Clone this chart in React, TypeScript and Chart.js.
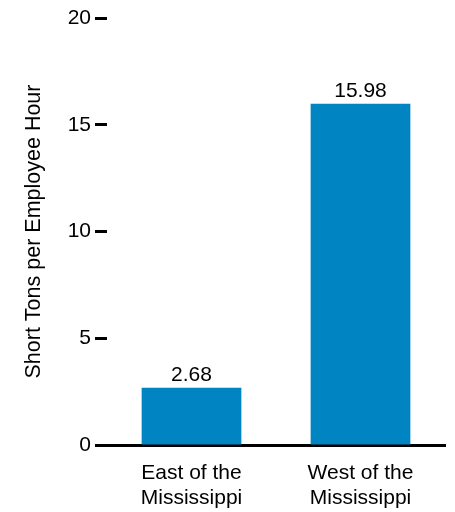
import React, { useEffect, useRef } from "react";
import { Chart, registerables } from "chart.js";

Chart.register(...registerables);

const categories: string[][] = [["East of the", "Mississippi"], ["West of the", "Mississippi"]];
const values: number[] = [2.68, 15.98];
const valueLabels: string[] = ["2.68", "15.98"];
const yTicks: number[] = [0, 5, 10, 15, 20];
const yTitle = "Short Tons per Employee Hour";

const FONT = "'Liberation Sans', Arial, Helvetica, sans-serif";
const BAR_COLOR = "#0084C2";

const valueLabelPlugin = {
  id: "valueLabels",
  afterDatasetsDraw(chart: any) {
    const ctx = chart.ctx;
    const meta = chart.getDatasetMeta(0);
    ctx.save();
    ctx.font = `21px ${FONT}`;
    ctx.fillStyle = "#000";
    ctx.textAlign = "center";
    ctx.textBaseline = "alphabetic";
    meta.data.forEach((bar: any, i: number) => {
      ctx.fillText(valueLabels[i], bar.x, bar.y - 7);
    });
    ctx.restore();
  },
};

export default function App() {
  const ref = useRef<HTMLCanvasElement>(null);
  useEffect(() => {
    if (!ref.current) return;
    const chart = new Chart(ref.current, {
      type: "bar",
      data: {
        labels: categories,
        datasets: [
          {
            data: values,
            backgroundColor: BAR_COLOR,
            borderWidth: 0,
            barPercentage: 0.59,
            categoryPercentage: 1,
          },
        ],
      },
      options: {
        responsive: false,
        animation: false,
        layout: { padding: { top: 18, right: 10, left: 0, bottom: 0 } },
        plugins: { legend: { display: false }, tooltip: { enabled: false } },
        scales: {
          x: {
            grid: { display: false },
            border: { display: true, color: "#000", width: 3 },
            ticks: {
              color: "#000",
              font: { family: FONT, size: 21, lineHeight: 1.19 },
              padding: 8,
              maxRotation: 0,
            },
            afterFit: (scale: any) => {
              scale.height = 67;
            },
          },
          y: {
            min: 0,
            max: 20,
            afterBuildTicks: (scale: any) => {
              scale.ticks = yTicks.map((v) => ({ value: v }));
            },
            grid: {
              drawOnChartArea: false,
              drawTicks: true,
              tickLength: 12,
              tickWidth: 3,
              tickColor: "#000",
              color: "#000",
            },
            border: { display: false },
            ticks: {
              color: "#000",
              font: { family: FONT, size: 21 },
              padding: 4,
            },
            title: {
              display: true,
              text: yTitle,
              color: "#000",
              font: { family: FONT, size: 21.5 },
              padding: { top: 21, bottom: 0 },
            },
            afterFit: (scale: any) => {
              scale.width = 107;
            },
          },
        },
      },
      plugins: [valueLabelPlugin],
    });
    return () => chart.destroy();
  }, []);
  return (
    <div style={{ position: "fixed", left: 0, top: 0, width: 455, height: 512 }}>
      <canvas ref={ref} width={455} height={512} style={{ display: "block" }} />
    </div>
  );
}
